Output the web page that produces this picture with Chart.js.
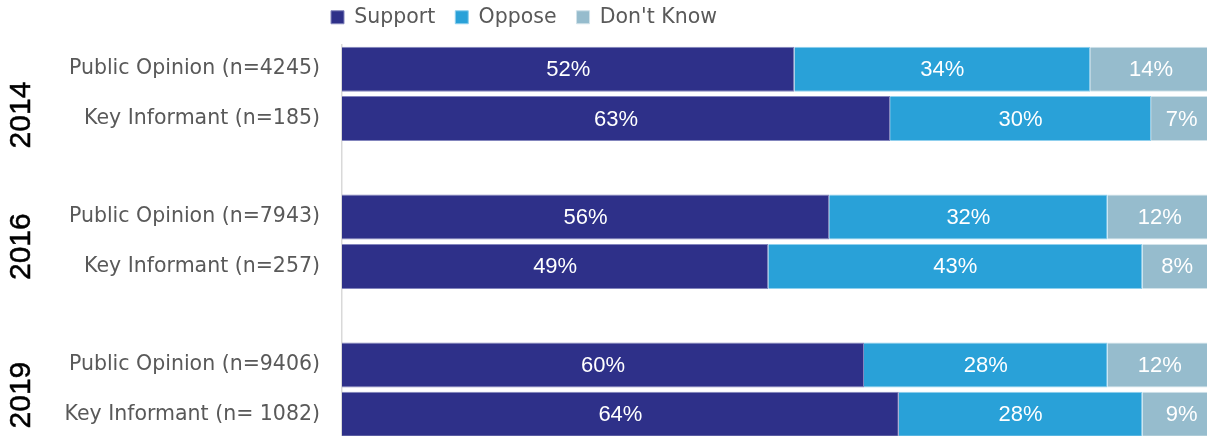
<!DOCTYPE html>
<html>
<head>
<meta charset="utf-8">
<script src="https://cdn.jsdelivr.net/npm/chart.js@4.4.1/dist/chart.umd.min.js"></script>
<style>
    html, body { margin: 0; padding: 0; background: #fff; overflow: hidden; }
    #wrap { position: relative; width: 1212px; height: 439px; }
</style>
</head>
<body>
<div id="wrap"><canvas id="opinionChart"></canvas></div>
<script>
const years = ['2014', '2016', '2019'];
const categories = [
    'Public Opinion (n=4245)', 'Key Informant (n=185)',
    'Public Opinion (n=7943)', 'Key Informant (n=257)',
    'Public Opinion (n=9406)', 'Key Informant (n= 1082)'
];
const support = [52, 63, 56, 49, 60, 64];
const oppose = [34, 30, 32, 43, 28, 28];
const dontKnow = [14, 7, 12, 8, 12, 9];

// where each year caption sits, in category units on the padded axis
const yearAnchors = [0.93, 3.6, 6.61];

// two rows per survey year, with an empty row between years
function withSpacers(values, blank) {
    const out = [];
    values.forEach((v, i) => {
        if (i > 0 && i % 2 === 0) out.push(blank);
        out.push(v);
    });
    return out;
}

const labelFont = "'DejaVu Sans', sans-serif";
const valueFont = "'Liberation Sans', Arial, sans-serif";

const valueLabels = {
    id: 'valueLabels',
    afterDatasetsDraw(chart) {
        const ctx = chart.ctx;
        ctx.save();
        ctx.fillStyle = '#ffffff';
        ctx.font = '22px ' + valueFont;
        ctx.textAlign = 'center';
        ctx.textBaseline = 'middle';
        chart.data.datasets.forEach((ds, i) => {
            chart.getDatasetMeta(i).data.forEach((bar, j) => {
                const v = ds.data[j];
                if (v === null) return;
                ctx.fillText(v + '%', (bar.x + bar.base) / 2, bar.y + 1);
            });
        });
        ctx.restore();
    }
};

const yearLabels = {
    id: 'yearLabels',
    afterDraw(chart) {
        const ctx = chart.ctx;
        const yScale = chart.scales.y;
        ctx.save();
        ctx.fillStyle = '#000000';
        ctx.font = '30px ' + valueFont;
        ctx.textAlign = 'center';
        ctx.textBaseline = 'middle';
        years.forEach((year, i) => {
            ctx.save();
            ctx.translate(22, yScale.getPixelForValue(yearAnchors[i]));
            ctx.rotate(-Math.PI / 2);
            ctx.fillText(year, 0, 0);
            // a touch heavier than a plain fill
            ctx.lineWidth = 0.5;
            ctx.strokeStyle = '#000000';
            ctx.strokeText(year, 0, 0);
            ctx.restore();
        });
        ctx.restore();
    }
};

// legend sits over the label column rather than centred on the canvas
const legendPlacement = {
    id: 'legendPlacement',
    afterLayout(chart) {
        chart.legend.left = chart.chartArea.left - 31;
        chart.legend.top = -13;
    }
};

const barOpts = { borderWidth: 1, barPercentage: 0.912, categoryPercentage: 1 };

new Chart(document.getElementById('opinionChart'), {
    type: 'bar',
    data: {
        labels: withSpacers(categories, ''),
        datasets: [
            { label: 'Support', data: withSpacers(support, null), backgroundColor: '#2e3089', borderColor: '#8385bd', ...barOpts },
            { label: 'Oppose', data: withSpacers(oppose, null), backgroundColor: '#29a1d8', borderColor: '#8fd0ee', ...barOpts },
            { label: "Don't Know", data: withSpacers(dontKnow, null), backgroundColor: '#96bccd', borderColor: '#d2e3ea', ...barOpts }
        ]
    },
    options: {
        indexAxis: 'y',
        responsive: true,
        maintainAspectRatio: false,
        animation: false,
        layout: { padding: 0 },
        scales: {
            x: { stacked: true, min: 0, max: 100, display: false },
            y: {
                stacked: true,
                grid: { display: false, drawTicks: false },
                border: { display: true, color: '#d9d9d9', width: 1.5 },
                ticks: {
                    autoSkip: false,
                    padding: 22,
                    color: '#595959',
                    font: { family: labelFont, size: 20.5 }
                },
                afterFit(scale) {
                    scale.width = 342;
                    // rows run right to the bottom edge
                    scale.paddingTop = 0;
                    scale.paddingBottom = 0;
                }
            }
        },
        plugins: {
            tooltip: { enabled: false },
            legend: {
                position: 'top',
                align: 'start',
                maxHeight: 44.5,
                labels: {
                    boxWidth: 13,
                    boxHeight: 13,
                    padding: 20,
                    color: '#595959',
                    font: { family: labelFont, size: 20.5 }
                }
            }
        }
    },
    plugins: [valueLabels, yearLabels, legendPlacement]
});
</script>
</body>
</html>
